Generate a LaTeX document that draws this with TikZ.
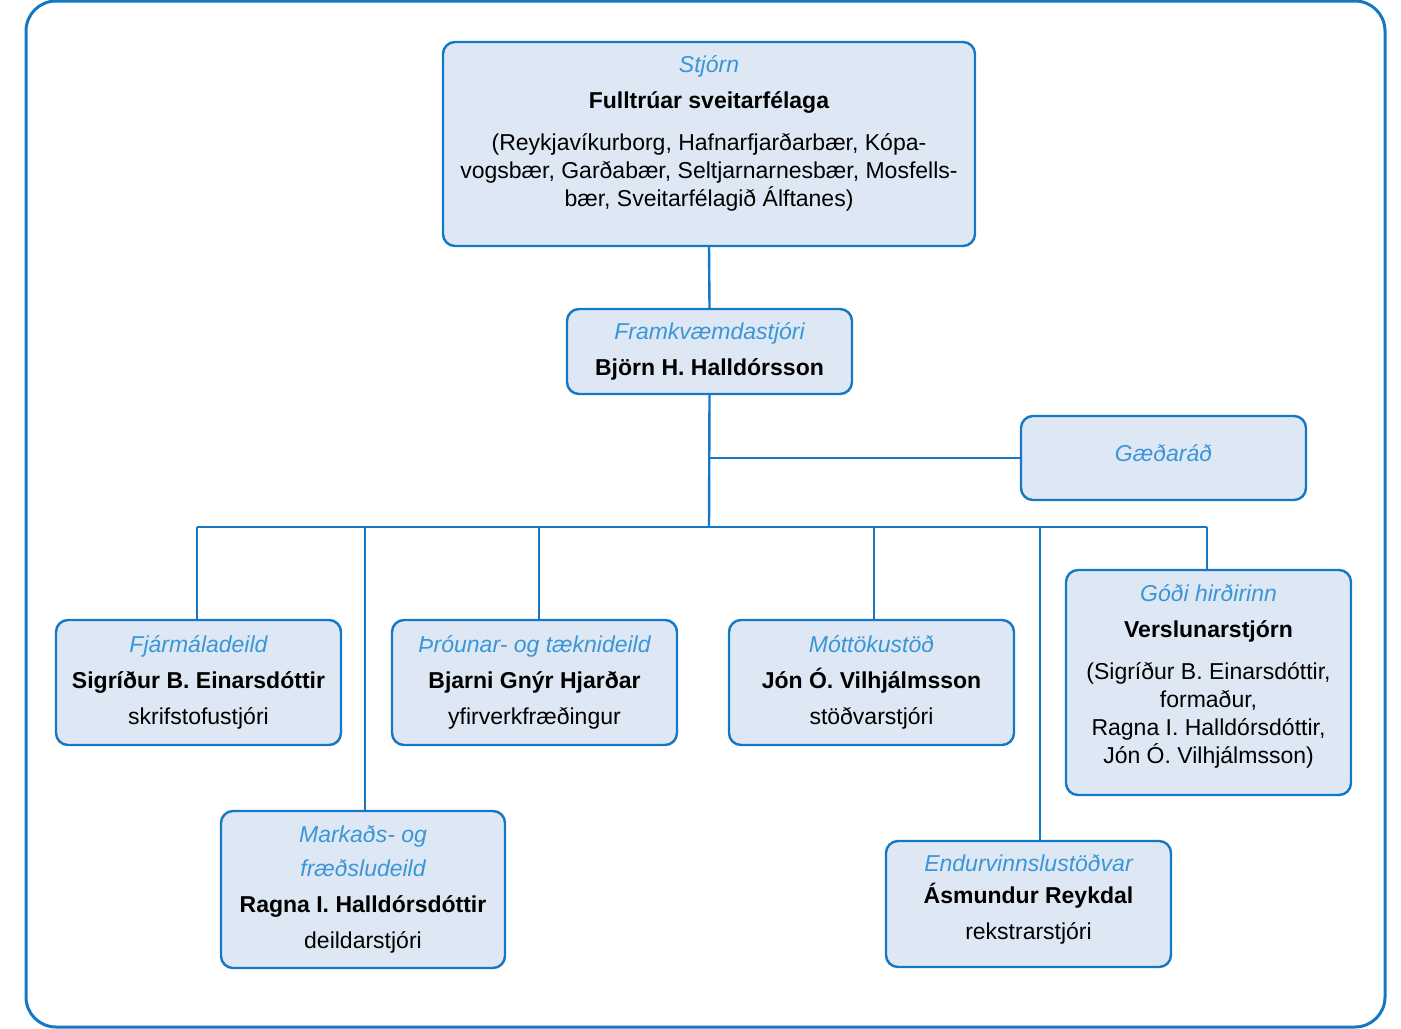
\documentclass[tikz,border=0pt]{standalone}
\usepackage{fontspec}
\setmainfont{Liberation Sans}
\definecolor{orgblue}{RGB}{21,120,196}
\definecolor{orgfill}{RGB}{222,232,245}
\definecolor{orgtitleblue}{RGB}{58,150,214}
\newcommand{\orgtitle}[1]{{\color{orgtitleblue}\itshape #1}}

\begin{document}
\begin{tikzpicture}[x=0.5pt,y=-0.5pt,font=\fontsize{11.5}{14}\selectfont,
  unit/.style={draw=orgblue, line width=1.2pt, fill=orgfill, rounded corners=6pt, align=center, inner sep=0pt, minimum width=142.5pt},
  link/.style={orgblue, line width=1.2pt}]
\useasboundingbox (0,0) rectangle (1401,1028);
\draw[orgblue, line width=1.5pt, rounded corners=15pt] (26,1) rectangle (1385,1027);

\node[unit, minimum width=266pt, minimum height=102pt, text depth=12.5pt] (stjorn) at (709,144) {\orgtitle{Stjórn}\\[4pt]\textbf{Fulltrúar sveitarfélaga}\\[7pt](Reykjavíkurborg, Hafnarfjarðarbær, Kópa-\\vogsbær, Garðabær, Seltjarnarnesbær, Mosfells-\\bær, Sveitarfélagið Álftanes)};
\node[unit, minimum height=42.5pt] (framkv) at (709.5,351.5) {\orgtitle{Framkvæmdastjóri}\\[4pt]\textbf{Björn H. Halldórsson}};
\node[unit, minimum height=42pt, text depth=5pt] (gaedarad) at (1163.5,458) {\orgtitle{Gæðaráð}};
\node[unit, minimum height=62.5pt] (fjarmal) at (198.5,682.5) {\orgtitle{Fjármáladeild}\\[4pt]\textbf{Sigríður B. Einarsdóttir}\\[4pt]skrifstofustjóri};
\node[unit, minimum height=62.5pt] (throun) at (534.5,682.5) {\orgtitle{Þróunar- og tæknideild}\\[4pt]\textbf{Bjarni Gnýr Hjarðar}\\[4pt]yfirverkfræðingur};
\node[unit, minimum height=62.5pt] (mottaka) at (871.5,682.5) {\orgtitle{Móttökustöð}\\[4pt]\textbf{Jón Ó. Vilhjálmsson}\\[4pt]stöðvarstjóri};
\node[unit, minimum height=112.5pt, text depth=8.5pt] (godi) at (1208.5,682.5) {\orgtitle{Góði hirðirinn}\\[4pt]\textbf{Verslunarstjórn}\\[7pt](Sigríður B. Einarsdóttir,\\formaður,\\Ragna I. Halldórsdóttir,\\Jón Ó. Vilhjálmsson)};
\node[unit, minimum width=142pt, minimum height=78.5pt] (markad) at (363,889.5) {\orgtitle{Markaðs- og}\\[3pt]\orgtitle{fræðsludeild}\\[4pt]\textbf{Ragna I. Halldórsdóttir}\\[4pt]deildarstjóri};
\node[unit, minimum height=63pt, text depth=6.5pt] (endur) at (1028.5,904) {\orgtitle{Endurvinnslustöðvar}\\[2pt]\textbf{Ásmundur Reykdal}\\[4pt]rekstrarstjóri};

\coordinate (hub) at (709,527);
\coordinate (b1) at (197,527);
\coordinate (b2) at (365,527);
\coordinate (b3) at (539,527);
\coordinate (b4) at (874,527);
\coordinate (b5) at (1040,527);
\coordinate (b6) at (1207,527);

\draw[link] (stjorn.south) -- (framkv.north);
\draw[link] (framkv.south) -- (hub);
\draw[link] (gaedarad.west) -- (gaedarad.west -| hub);
\draw[link] (b1) -- (b6);
\draw[link] (b1) -- (b1 |- fjarmal.north);
\draw[link] (b2) -- (b2 |- markad.north);
\draw[link] (b3) -- (b3 |- throun.north);
\draw[link] (b4) -- (b4 |- mottaka.north);
\draw[link] (b5) -- (b5 |- endur.north);
\draw[link] (b6) -- (b6 |- godi.north);
\end{tikzpicture}
\end{document}
